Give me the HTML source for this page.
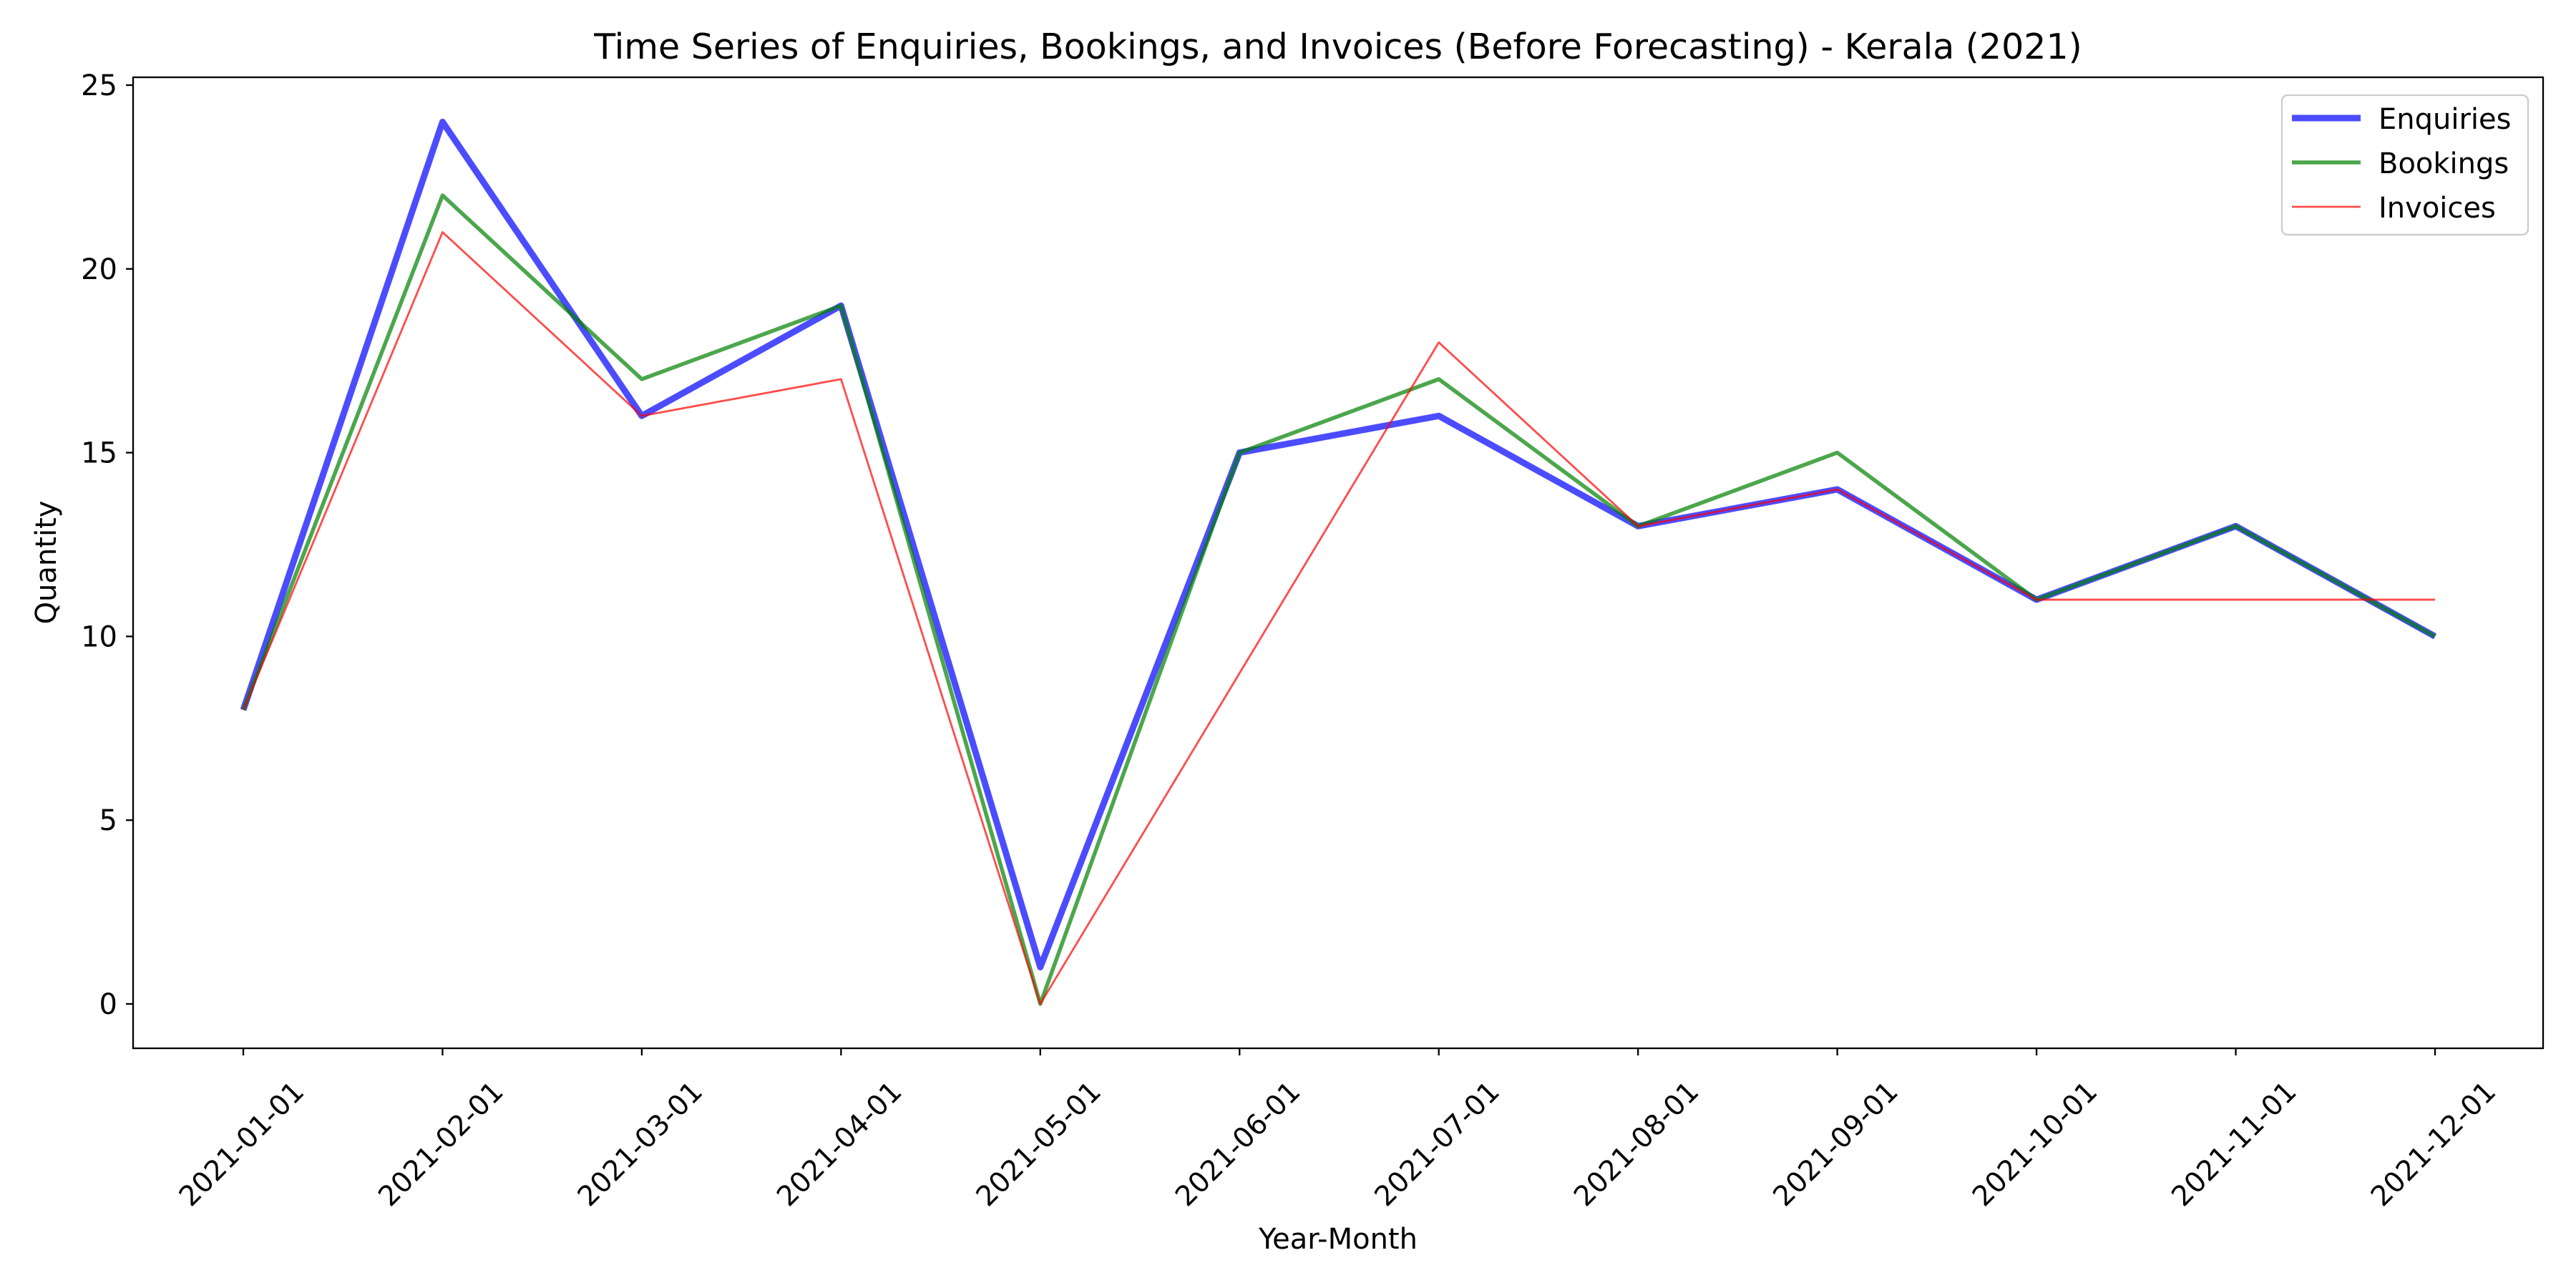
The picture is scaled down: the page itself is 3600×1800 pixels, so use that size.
<!DOCTYPE html>
<html><head><meta charset="utf-8"><style>html,body{margin:0;padding:0;background:#fff}svg{display:block;font-family:"DejaVu Sans","Liberation Sans",sans-serif}</style></head>
<body>
<svg id="chart" width="3600" height="1800" viewBox="0 0 3600 1800">
<rect x="0" y="0" width="3600" height="1800" fill="#fff"/>
<text x="1870" y="82" font-size="49" text-anchor="middle">Time Series of Enquiries, Bookings, and Invoices (Before Forecasting) - Kerala (2021)</text>
<g id="plot"></g>
<rect x="186" y="108" width="3368" height="1357" fill="none" stroke="#000" stroke-width="2.3"/>
<text x="0" y="0" transform="translate(78,786) rotate(-90)" font-size="40" text-anchor="middle">Quantity</text>
<text x="1870" y="1745" font-size="40" text-anchor="middle">Year-Month</text>
<g>
<rect x="3189" y="133" width="344" height="195" rx="8" fill="#fff" fill-opacity="0.8" stroke="#ccc" stroke-width="2.3"/>
<line x1="3203" y1="165" x2="3299" y2="165" stroke="#0000ff" stroke-opacity="0.7" stroke-width="9"/>
<text x="3324" y="180" font-size="40">Enquiries</text>
<line x1="3203" y1="227" x2="3299" y2="227" stroke="#008000" stroke-opacity="0.7" stroke-width="5.5"/>
<text x="3324" y="242" font-size="40">Bookings</text>
<line x1="3203" y1="289" x2="3299" y2="289" stroke="#ff0000" stroke-opacity="0.7" stroke-width="2.8"/>
<text x="3324" y="304" font-size="40">Invoices</text>
</g>
</svg>
<script>
const categories = ["2021-01-01","2021-02-01","2021-03-01","2021-04-01","2021-05-01","2021-06-01","2021-07-01","2021-08-01","2021-09-01","2021-10-01","2021-11-01","2021-12-01"];
const enquiries = [8,24,16,19,1,15,16,13,14,11,13,10];
const bookings = [8,22,17,19,0,15,17,13,15,11,13,10];
const invoices = [8,21,16,17,0,9,18,13,14,11,11,11];
const yTicks = [0,5,10,15,20,25];
const NS = "http://www.w3.org/2000/svg";
const g = document.getElementById("plot");
function xS(i){ return 340 + i * (3403 - 340) / (categories.length - 1); }
function yS(v){ return 1403 - v * (1403 - 119) / 25; }
function mk(tag, attrs){ const e = document.createElementNS(NS, tag); for (const k in attrs) e.setAttribute(k, attrs[k]); g.appendChild(e); return e; }
yTicks.forEach(function(t){
  const l = mk("line", {x1:176, x2:186, y1:yS(t), y2:yS(t), stroke:"#000", "stroke-width":2.3});
  
  
  const tx = mk("text", {x:164, y:yS(t)+14, "font-size":40, "text-anchor":"end"});
  tx.textContent = t;
  
  
});
categories.forEach(function(c, i){
  const l = mk("line", {x1:xS(i), x2:xS(i), y1:1465, y2:1475, stroke:"#000", "stroke-width":2.3});
  
  
  const tx = mk("text", {x:0, y:14, "font-size":39, "text-anchor":"middle", transform:"translate(" + (xS(i)-3) + ",1598) rotate(-45)"});
  tx.textContent = c;
  
  
});
function series(vals, color, w, name){
  const p = mk("polyline", {points: vals.map(function(v,i){ return xS(i)+","+yS(v); }).join(" "), fill:"none", stroke:color, "stroke-opacity":0.7, "stroke-width":w, "stroke-linejoin":"round"});
  
  
}
series(enquiries, "#0000ff", 9, "enquiries-line");
series(bookings, "#008000", 5.5, "bookings-line");
series(invoices, "#ff0000", 2.8, "invoices-line");
</script>
</body></html>
